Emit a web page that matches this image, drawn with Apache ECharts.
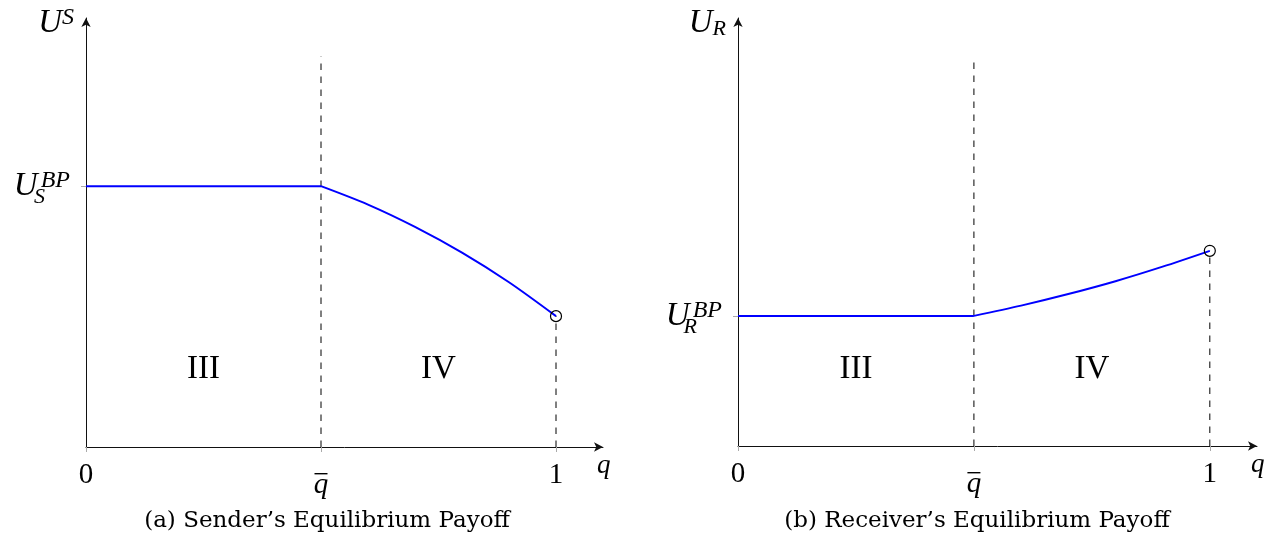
<!DOCTYPE html>
<html>
<head>
<meta charset="utf-8">
<script src="https://cdn.jsdelivr.net/npm/echarts@6/dist/echarts.min.js"></script>
<style>
  html, body { margin: 0; padding: 0; background: #fff; }
  #main { width: 1281px; height: 544px; }
</style>
</head>
<body>
<div id="main"></div>
<script>
// q axis ticks: 0, q-bar, 1
var qTicks = [0, 0.5, 1];
var qTickLabels = ['0', 'qbar', '1'];

// sender panel (a)
var senderBP = 0.608;
var senderFlatX = [0, 0.5];
var senderCurveX = [0.5, 0.6, 0.7, 0.8, 0.9, 1.0];
var senderCurveY = [0.608, 0.565, 0.513, 0.453, 0.384, 0.305];

// receiver panel (b)
var receiverBP = 0.304;
var receiverFlatX = [0, 0.5];
var receiverCurveX = [0.5, 0.6, 0.7, 0.8, 0.9, 1.0];
var receiverCurveY = [0.304, 0.328, 0.355, 0.385, 0.419, 0.456];

// dashed guide top and region labels
var guideTop = 0.91;
var regionNames = ['III', 'IV'];
var regionX = [0.25, 0.75];
var regionY = 0.18;

var captions = ['(a) Sender\u2019s Equilibrium Payoff', '(b) Receiver\u2019s Equilibrium Payoff'];

var SERIF = '"Liberation Serif", "DejaVu Serif", serif';
var BLUE = '#0000ff';

function pairs(xs, ys) {
    return xs.map(function (x, i) { return [x, ys[i]]; });
}

function qLabel(v) {
    var i = qTicks.indexOf(v);
    if (i < 0) return '';
    if (qTickLabels[i] === 'qbar') return '{sp|}\n{bar|}\n{q|q}';
    return '{n|' + qTickLabels[i] + '}';
}

var qRich = {
    n: { fontFamily: SERIF, fontSize: 29, color: '#000', lineHeight: 30 },
    q: { fontFamily: SERIF, fontSize: 29, fontStyle: 'italic', color: '#000', lineHeight: 22 },
    sp: { height: 13 },
    bar: { width: 13, height: 1.4, backgroundColor: '#000' }
};

var mathRich = {
    u: { fontFamily: SERIF, fontSize: 33, fontStyle: 'italic', color: '#000', lineHeight: 34 },
    ub: { fontFamily: SERIF, fontSize: 33, fontStyle: 'italic', color: '#000', lineHeight: 34, padding: [0, 3, 0, 0] },
    sup: { fontFamily: SERIF, fontSize: 24, fontStyle: 'italic', color: '#000', verticalAlign: 'top', lineHeight: 23 },
    sub: { fontFamily: SERIF, fontSize: 22, fontStyle: 'italic', color: '#000', verticalAlign: 'bottom', lineHeight: 22 }
};

function xAxisFor(gi) {
    return {
        gridIndex: gi,
        type: 'value',
        min: 0,
        max: 1.1,
        interval: 0.5,
        axisLine: {
            show: true,
            symbol: ['none', 'arrow'],
            symbolSize: [7, 9],
            lineStyle: { color: '#111', width: 1 }
        },
        axisTick: { show: true, customValues: qTicks, length: 5, lineStyle: { color: '#aaa' } },
        axisLabel: { customValues: qTicks, formatter: qLabel, rich: qRich, margin: 13 },
        splitLine: { show: false },
        name: 'q',
        nameLocation: 'end',
        nameGap: -6,
        nameTextStyle: {
            fontFamily: SERIF, fontSize: 27, fontStyle: 'italic', color: '#000',
            align: 'left', verticalAlign: 'top', padding: [5, 0, 0, 0]
        }
    };
}

function yAxisFor(gi, bp, name) {
    return {
        gridIndex: gi,
        type: 'value',
        min: 0,
        max: 1,
        axisLine: {
            show: true,
            symbol: ['none', 'arrow'],
            symbolSize: [7, 9],
            lineStyle: { color: '#111', width: 1 }
        },
        axisTick: { show: true, customValues: [bp], length: 5, lineStyle: { color: '#aaa' } },
        axisLabel: {
            customValues: [bp],
            formatter: function () { return '{ub|U}{sup|BP}'; },
            rich: mathRich,
            margin: 16
        },
        splitLine: { show: false },
        name: name,
        nameLocation: 'end',
        nameGap: -5,
        nameTextStyle: {
            rich: mathRich,
            align: 'right',
            verticalAlign: 'middle',
            padding: [0, 12, 0, 0]
        }
    };
}

// second left axis only carries the subscript under "BP"
function subAxisFor(gi, bp, sub) {
    return {
        gridIndex: gi,
        type: 'value',
        min: 0,
        max: 1,
        position: 'left',
        offset: 0,
        axisLine: { show: false },
        axisTick: { show: false },
        axisLabel: {
            customValues: [bp],
            formatter: function () { return sub; },
            fontFamily: SERIF, fontSize: 22, fontStyle: 'italic', color: '#000',
            verticalAlign: 'top',
            margin: 41
        },
        splitLine: { show: false }
    };
}

function panelSeries(gi, flatX, bp, curveX, curveY) {
    var endY = curveY[curveY.length - 1];
    var dash = { color: '#000', width: 1, type: [6.5, 6.5] };
    return [
        {
            type: 'line', xAxisIndex: gi, yAxisIndex: gi * 2, silent: true,
            data: [[0.5, 0], [0.5, guideTop]],
            symbol: 'none', lineStyle: dash, z: 1
        },
        {
            type: 'line', xAxisIndex: gi, yAxisIndex: gi * 2, silent: true,
            data: [[1, 0], [1, endY]],
            symbol: 'none', lineStyle: dash, z: 1
        },
        {
            type: 'line', xAxisIndex: gi, yAxisIndex: gi * 2,
            data: flatX.map(function (x) { return [x, bp]; }),
            symbol: 'none', lineStyle: { color: BLUE, width: 2 }, z: 3
        },
        {
            type: 'line', xAxisIndex: gi, yAxisIndex: gi * 2,
            data: pairs(curveX, curveY), smooth: 0.3,
            symbol: 'none', lineStyle: { color: BLUE, width: 2 }, z: 3
        },
        {
            type: 'scatter', xAxisIndex: gi, yAxisIndex: gi * 2,
            data: [[1, endY]],
            symbol: 'circle', symbolSize: 11,
            itemStyle: { color: 'rgba(0,0,0,0)', borderColor: '#000', borderWidth: 1.2, opacity: 1 }, z: 4
        },
        {
            type: 'scatter', xAxisIndex: gi, yAxisIndex: gi * 2,
            data: regionNames.map(function (n, i) { return { name: n, value: [regionX[i], regionY] }; }),
            symbolSize: 0,
            itemStyle: { opacity: 1 },
            label: {
                show: true, position: 'inside', formatter: '{b}',
                fontFamily: SERIF, fontSize: 33, color: '#000'
            }
        }
    ];
}

var captionStyle = { fontFamily: '"DejaVu Serif", serif', fontSize: 23, fontWeight: 'normal', color: '#000' };

var chart = echarts.init(document.getElementById('main'));
chart.setOption({
    animation: false,
    backgroundColor: '#fff',
    title: [
        { text: captions[0], left: 322, top: 505, textAlign: 'center', textStyle: captionStyle },
        { text: captions[1], left: 972, top: 505, textAlign: 'center', textStyle: captionStyle }
    ],
    grid: [
        { left: 86, top: 18, width: 517, height: 429 },
        { left: 738, top: 18, width: 519, height: 428 }
    ],
    xAxis: [xAxisFor(0), xAxisFor(1)],
    yAxis: [
        yAxisFor(0, senderBP, '{u|U}{sup|S}'),
        subAxisFor(0, senderBP, 'S'),
        yAxisFor(1, receiverBP, '{u|U}{sub|R}'),
        subAxisFor(1, receiverBP, 'R')
    ],
    series: []
        .concat(panelSeries(0, senderFlatX, senderBP, senderCurveX, senderCurveY))
        .concat(panelSeries(1, receiverFlatX, receiverBP, receiverCurveX, receiverCurveY))
});
</script>
</body>
</html>
